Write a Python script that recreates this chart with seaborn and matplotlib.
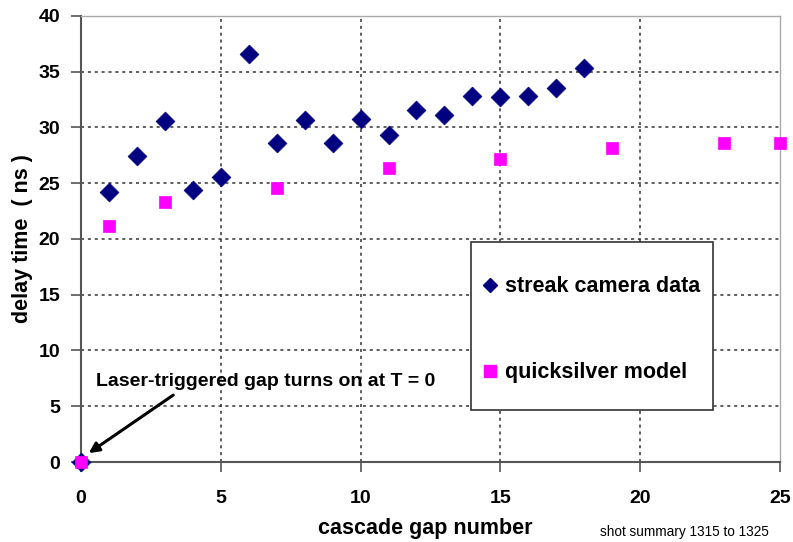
import matplotlib
matplotlib.use("Agg")
import matplotlib.pyplot as plt
import seaborn as sns
import pandas as pd
from matplotlib.lines import Line2D
from matplotlib.patches import Rectangle

# Measured delay for each cascade gap (streak camera)
streak_gap = [0, 1, 2, 3, 4, 5, 6, 7, 8, 9, 10, 11, 12, 13, 14, 15, 16, 17, 18]
streak_delay = [0, 24.2, 27.4, 30.6, 24.4, 25.6, 36.6, 28.6, 30.7, 28.6, 30.8,
                29.3, 31.6, 31.1, 32.8, 32.7, 32.8, 33.5, 35.3]

# Simulated delay (quicksilver model)
model_gap = [0, 1, 3, 7, 11, 15, 19, 23, 25]
model_delay = [0, 21.2, 23.3, 24.6, 26.4, 27.2, 28.2, 28.6, 28.6]

x_ticks = [0, 5, 10, 15, 20, 25]
y_ticks = [0, 5, 10, 15, 20, 25, 30, 35, 40]

streak_label = "streak camera data"
model_label = "quicksilver model"

streak_df = pd.DataFrame({"gap": streak_gap, "delay": streak_delay})
model_df = pd.DataFrame({"gap": model_gap, "delay": model_delay})

sns.set_style("white")
plt.rcParams["font.family"] = ["Liberation Sans", "DejaVu Sans"]
plt.rcParams["text.color"] = "black"
plt.rcParams["axes.labelcolor"] = "black"
plt.rcParams["xtick.color"] = "black"
plt.rcParams["ytick.color"] = "black"

NAVY = "#000080"
MAGENTA = "#FF00FF"

fig = plt.figure(figsize=(7.93, 5.42), dpi=100)
ax = fig.add_axes([0.1021, 0.1476, 0.8815, 0.8229])

sns.scatterplot(data=streak_df, x="gap", y="delay", marker="D", s=92,
                color=NAVY, edgecolor=NAVY, linewidth=0.5, ax=ax, zorder=3,
                clip_on=False)
sns.scatterplot(data=model_df, x="gap", y="delay", marker="s", s=72,
                color=MAGENTA, edgecolor=MAGENTA, linewidth=0.5, ax=ax,
                zorder=4, clip_on=False)

ax.set_xlim(0, 25)
ax.set_ylim(0, 40)
ax.set_xticks(x_ticks)
ax.set_yticks(y_ticks)
ax.set_xticklabels([str(t) for t in x_ticks], fontsize=14, fontweight="bold")
ax.set_yticklabels([str(t) for t in y_ticks], fontsize=14, fontweight="bold")

ax.tick_params(axis="x", direction="out", length=7, width=1.2,
               color="#555555", labelcolor="black", pad=13, bottom=True)
ax.tick_params(axis="y", direction="out", length=7, width=1.2,
               color="#555555", labelcolor="black", pad=8, left=True)

# dotted grid on interior ticks only
ax.grid(True, linestyle=(0, (2, 2.5)), color="#333333", linewidth=1.1)
for line, val in zip(ax.get_xgridlines(), x_ticks):
    if val in (x_ticks[0], x_ticks[-1]):
        line.set_visible(False)
for line, val in zip(ax.get_ygridlines(), y_ticks):
    if val in (y_ticks[0], y_ticks[-1]):
        line.set_visible(False)
ax.set_axisbelow(True)

for side in ("left", "bottom"):
    ax.spines[side].set_color("#555555")
    ax.spines[side].set_linewidth(1.5)
for side in ("top", "right"):
    ax.spines[side].set_color("#aaaaaa")
    ax.spines[side].set_linewidth(1.0)

ax.set_xlabel("cascade gap number", fontsize=15.5, fontweight="bold")
ax.xaxis.set_label_coords(0.493, -0.148)
ax.xaxis.label.set_va("center")
ax.set_ylabel("delay time  ( ns )", fontsize=15.5, fontweight="bold")
ax.yaxis.set_label_coords(-0.069, 0.5)

# annotation for the laser-triggered gap at the origin
ax.text(0.55, 7.2, "Laser-triggered gap turns on at T = 0", fontsize=14,
        fontweight="bold", ha="left", va="center", zorder=6)
ax.annotate("", xy=(0.28, 0.8), xytext=(3.3, 6.0),
            arrowprops=dict(arrowstyle="-|>", color="black", lw=2.2,
                            mutation_scale=15, shrinkA=0, shrinkB=0),
            zorder=6)

# legend panel
panel = Rectangle((0.558, 0.1166), 0.346, 0.377, transform=ax.transAxes,
                  facecolor="white", edgecolor="#333333", linewidth=1.2,
                  zorder=6)
ax.add_patch(panel)

handles = [
    Line2D([], [], marker="D", color=NAVY, linestyle="none", markersize=7),
    Line2D([], [], marker="s", color=MAGENTA, linestyle="none", markersize=8),
]
leg = ax.legend(handles, [streak_label, model_label], loc="upper left",
                bbox_to_anchor=(0.573, 0.416),
                prop={"size": 15.5, "weight": "bold"}, frameon=False,
                borderpad=0, labelspacing=3.0, handlelength=0.8,
                handletextpad=0.3, borderaxespad=0)
leg.set_zorder(7)

fig.text(0.757, 0.018, "shot summary 1315 to 1325", fontsize=9.8,
         ha="left", va="center")

fig.savefig("out.png", dpi=100, facecolor="white")
